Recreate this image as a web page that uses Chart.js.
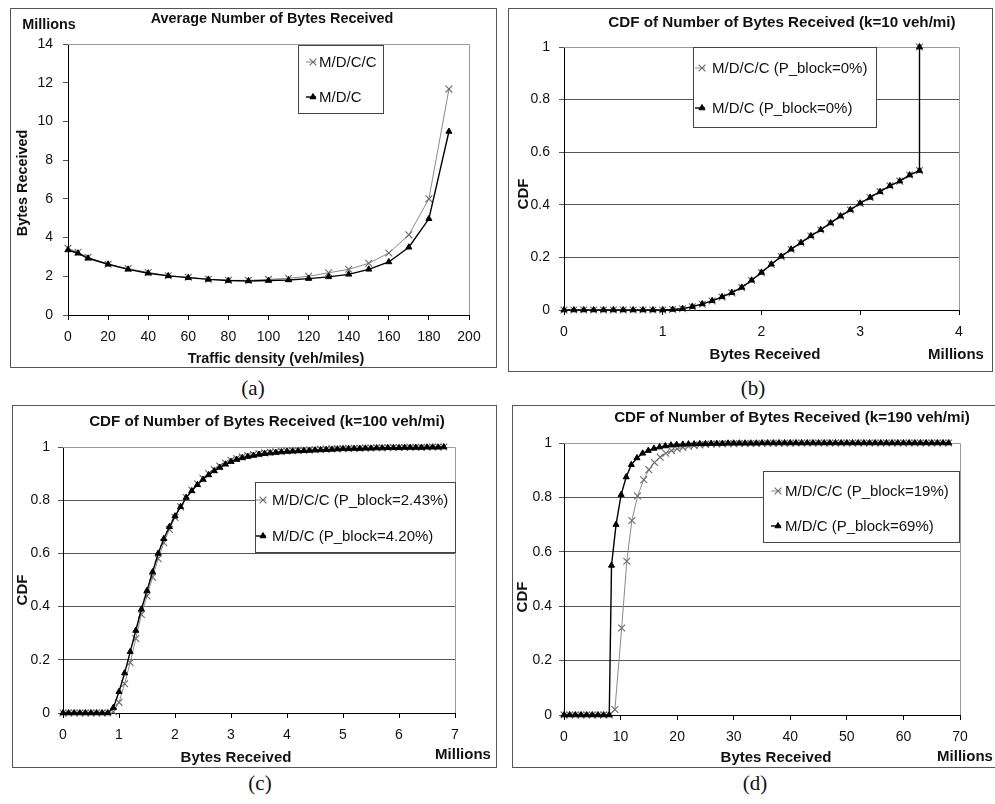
<!DOCTYPE html>
<html>
<head>
<meta charset="utf-8">
<script src="https://cdn.jsdelivr.net/npm/chart.js@4.4.1/dist/chart.umd.min.js"></script>
<style>
  body { margin: 0; background: #fff; width: 995px; height: 804px; overflow: hidden; position: relative; }
  .frame { position: absolute; border: 1px solid #555; box-sizing: border-box; }
  canvas { position: absolute; }
  .cap { position: absolute; font-family: "Liberation Serif", "Times New Roman", serif; font-size: 21px; transform: translateX(-50%); color: #111; }
</style>
</head>
<body>
<div class="frame" style="left:10px;top:8px;width:487px;height:360px"></div>
<canvas id="chartA" width="487" height="360" style="left:10px;top:8px"></canvas>
<div class="frame" style="left:508px;top:8px;width:485px;height:364px"></div>
<canvas id="chartB" width="485" height="364" style="left:508px;top:8px"></canvas>
<div class="frame" style="left:12px;top:405px;width:485px;height:363px"></div>
<canvas id="chartC" width="485" height="363" style="left:12px;top:405px"></canvas>
<div class="frame" style="left:512px;top:405px;width:490px;height:363px"></div>
<canvas id="chartD" width="490" height="363" style="left:512px;top:405px"></canvas>
<div class="cap" style="left:253px;top:376px">(a)</div>
<div class="cap" style="left:753px;top:376px">(b)</div>
<div class="cap" style="left:260px;top:771px">(c)</div>
<div class="cap" style="left:755px;top:771px">(d)</div>
<script>
// (a) average bytes received vs traffic density (millions)
const aDensity = [0, 5, 10, 20, 30, 40, 50, 60, 70, 80, 90, 100, 110, 120, 130, 140, 150, 160, 170, 180, 190];
const aMDCC = [3.45, 3.24, 2.98, 2.62, 2.40, 2.20, 2.03, 1.95, 1.85, 1.79, 1.79, 1.84, 1.90, 2.00, 2.18, 2.36, 2.67, 3.20, 4.14, 6.00, 11.67];
const aMDC = [3.36, 3.19, 2.93, 2.62, 2.36, 2.16, 2.02, 1.93, 1.84, 1.78, 1.76, 1.78, 1.81, 1.88, 1.97, 2.10, 2.36, 2.74, 3.50, 4.97, 9.48];

// (b) CDF, k=10 veh/mi
const bBytes = [0, 0.1, 0.2, 0.3, 0.4, 0.5, 0.6, 0.7, 0.8, 0.9, 1.0, 1.1, 1.2, 1.3, 1.4, 1.5, 1.6, 1.7, 1.8, 1.9,
  2.0, 2.1, 2.2, 2.3, 2.4, 2.5, 2.6, 2.7, 2.8, 2.9, 3.0, 3.1, 3.2, 3.3, 3.4, 3.5, 3.6, 3.6];
const bMDCC = [0, 0, 0, 0, 0, 0, 0, 0, 0, 0, 0, 0.002, 0.005, 0.012, 0.022, 0.034, 0.049, 0.065, 0.085, 0.112,
  0.142, 0.173, 0.203, 0.230, 0.255, 0.281, 0.304, 0.330, 0.357, 0.380, 0.405, 0.428, 0.450, 0.472, 0.490, 0.513, 0.530, 1];
const bMDC = [0, 0, 0, 0, 0, 0, 0, 0, 0, 0, 0, 0.002, 0.005, 0.013, 0.023, 0.035, 0.050, 0.066, 0.086, 0.113,
  0.143, 0.174, 0.204, 0.231, 0.256, 0.282, 0.305, 0.331, 0.357, 0.381, 0.406, 0.428, 0.450, 0.472, 0.490, 0.513, 0.530, 1];

// (c) CDF, k=100 veh/mi
const cBytes = [0, 0.1, 0.2, 0.3, 0.4, 0.5, 0.6, 0.7, 0.8, 0.9, 1.0, 1.1, 1.2, 1.3, 1.4, 1.5, 1.6, 1.7, 1.8, 1.9,
  2.0, 2.1, 2.2, 2.3, 2.4, 2.5, 2.6, 2.7, 2.8, 2.9, 3.0, 3.1, 3.2, 3.3, 3.4, 3.5, 3.6, 3.7, 3.8, 3.9,
  4.0, 4.1, 4.2, 4.3, 4.4, 4.5, 4.6, 4.7, 4.8, 4.9, 5.0, 5.1, 5.2, 5.3, 5.4, 5.5, 5.6, 5.7, 5.8, 5.9,
  6.0, 6.1, 6.2, 6.3, 6.4, 6.5, 6.6, 6.7, 6.8];
const cMDCC = [0, 0, 0, 0, 0, 0, 0, 0, 0, 0.005, 0.04, 0.11, 0.19, 0.28, 0.37, 0.44, 0.51, 0.58, 0.64, 0.69,
  0.735, 0.775, 0.81, 0.838, 0.862, 0.882, 0.900, 0.915, 0.928, 0.940, 0.950, 0.957, 0.963, 0.968, 0.972, 0.975, 0.978, 0.980, 0.982, 0.984,
  0.985, 0.986, 0.987, 0.988, 0.989, 0.990, 0.991, 0.992, 0.993, 0.993, 0.994, 0.994, 0.995, 0.995, 0.996, 0.996, 0.997, 0.997, 0.997, 0.998,
  0.998, 0.998, 0.999, 0.999, 0.999, 0.999, 1, 1, 1];
const cMDC = [0, 0, 0, 0, 0, 0, 0, 0, 0, 0.02, 0.08, 0.15, 0.23, 0.31, 0.39, 0.46, 0.53, 0.60, 0.655, 0.70,
  0.74, 0.775, 0.81, 0.835, 0.858, 0.878, 0.895, 0.910, 0.923, 0.935, 0.945, 0.953, 0.959, 0.964, 0.968, 0.972, 0.975, 0.977, 0.979, 0.981,
  0.983, 0.984, 0.985, 0.986, 0.987, 0.988, 0.989, 0.990, 0.991, 0.992, 0.993, 0.993, 0.994, 0.994, 0.995, 0.995, 0.996, 0.996, 0.997, 0.997,
  0.997, 0.998, 0.998, 0.998, 0.998, 0.999, 0.999, 0.999, 1];

// (d) CDF, k=190 veh/mi
const dBytesMDCC = [0, 1, 2, 3, 4, 5, 6, 7, 8, 9, 10.2, 11.1, 12, 13, 14.1, 15, 16, 17, 18, 19,
  20, 21, 22, 23, 24, 25, 26, 27, 28, 29, 30, 31, 32, 33, 34, 35, 36, 37, 38, 39,
  40, 41, 42, 43, 44, 45, 46, 47, 48, 49, 50, 51, 52, 53, 54, 55, 56, 57, 58, 59,
  60, 61, 62, 63, 64, 65, 66, 67, 68];
const dMDCC = [0, 0, 0, 0, 0, 0, 0, 0, 0, 0.02, 0.32, 0.565, 0.715, 0.805, 0.865, 0.902, 0.928, 0.948, 0.962, 0.972,
  0.979, 0.984, 0.988, 0.991, 0.993, 0.995, 0.996, 0.996, 0.997, 0.997, 0.997, 0.998, 0.998, 0.998, 0.998, 0.999, 0.999, 0.999, 0.999, 0.999,
  0.999, 1, 1, 1, 1, 1, 1, 1, 1, 1, 1, 1, 1, 1, 1, 1, 1, 1, 1, 1,
  1, 1, 1, 1, 1, 1, 1, 1, 1];
const dBytesMDC = [0, 1, 2, 3, 4, 5, 6, 7, 8, 8.4, 9.2, 10.1, 11, 11.9, 12.9, 13.9, 14.9, 15.9, 16.9, 17.9,
  18.9, 19.9, 21, 22, 23, 24, 25, 26, 27, 28, 29, 30, 31, 32, 33, 34, 35, 36, 37, 38,
  39, 40, 41, 42, 43, 44, 45, 46, 47, 48, 49, 50, 51, 52, 53, 54, 55, 56, 57, 58,
  59, 60, 61, 62, 63, 64, 65, 66, 67, 68];
const dMDC = [0, 0, 0, 0, 0, 0, 0, 0, 0, 0.55, 0.70, 0.81, 0.875, 0.92, 0.945, 0.962, 0.972, 0.980, 0.985, 0.989,
  0.992, 0.994, 0.995, 0.996, 0.996, 0.997, 0.997, 0.998, 0.998, 0.998, 0.999, 0.999, 0.999, 0.999, 0.999, 0.999, 1, 1, 1, 1,
  1, 1, 1, 1, 1, 1, 1, 1, 1, 1, 1, 1, 1, 1, 1, 1, 1, 1, 1, 1,
  1, 1, 1, 1, 1, 1, 1, 1, 1, 1];

const FONT = '"Liberation Sans", Arial, Helvetica, sans-serif';

function series(label, xs, ys, kind) {
  const pts = xs.map((x, i) => ({ x: x, y: ys[i] }));
  if (kind === 'cross') {
    return {
      label: label, data: pts, borderColor: '#8a8a8a', borderWidth: 1, order: 1,
      pointStyle: 'crossRot', pointRadius: 4.8, pointBorderColor: '#6a6a6a', pointBackgroundColor: '#6a6a6a',
      pointBorderWidth: 1.1, fill: false, tension: 0, clip: false
    };
  }
  return {
    label: label, data: pts, borderColor: '#000', borderWidth: 1.4, order: 0,
    pointStyle: 'triangle', pointRadius: 3.5, pointBorderColor: '#000', pointBackgroundColor: '#000',
    pointBorderWidth: 1, fill: false, tension: 0, clip: false
  };
}

// frame, legend box and free text (Excel style)
const deco = {
  id: 'deco',
  beforeDatasetsDraw(chart) {
    const a = chart.chartArea, ctx = chart.ctx;
    ctx.save();
    ctx.strokeStyle = '#9a9a9a';
    ctx.lineWidth = 1;
    ctx.beginPath();
    ctx.moveTo(a.left, Math.round(a.top) + 0.5);
    ctx.lineTo(Math.round(a.right) + 0.5, Math.round(a.top) + 0.5);
    ctx.lineTo(Math.round(a.right) + 0.5, a.bottom);
    ctx.stroke();
    ctx.restore();
  },
  afterDatasetsDraw(chart, args, o) {
    const ctx = chart.ctx;
    ctx.save();
    const b = o.box;
    ctx.fillStyle = '#fff';
    ctx.fillRect(b[0], b[1], b[2] - b[0], b[3] - b[1]);
    ctx.strokeStyle = '#444';
    ctx.lineWidth = 1;
    ctx.strokeRect(b[0] + 0.5, b[1] + 0.5, b[2] - b[0], b[3] - b[1]);
    ctx.font = '15px ' + FONT;
    ctx.textBaseline = 'middle';
    ctx.textAlign = 'left';
    chart.data.datasets.forEach((ds, i) => {
      const y = o.rows[i];
      ctx.strokeStyle = ds.borderColor;
      ctx.lineWidth = ds.borderWidth;
      ctx.beginPath();
      ctx.moveTo(o.markX - 7, y);
      ctx.lineTo(o.markX + 3, y);
      ctx.stroke();
      ctx.fillStyle = ds.pointBackgroundColor;
      ctx.strokeStyle = ds.pointBorderColor;
      ctx.lineWidth = ds.pointBorderWidth;
      Chart.helpers.drawPoint(ctx, { pointStyle: ds.pointStyle, radius: ds.pointRadius, rotation: 0, borderWidth: ds.pointBorderWidth }, o.markX, y);
      ctx.fillStyle = '#111';
      ctx.fillText(ds.label, o.textX, y + 1);
    });
    o.texts.forEach(t => {
      ctx.save();
      ctx.font = 'bold ' + t[4] + 'px ' + FONT;
      ctx.fillStyle = '#111';
      ctx.textAlign = 'center';
      ctx.textBaseline = 'middle';
      ctx.translate(t[1], t[2]);
      if (t[3]) ctx.rotate(-Math.PI / 2);
      ctx.fillText(t[0], 0, 0);
      ctx.restore();
    });
    ctx.restore();
  }
};

function makeChart(id, sets, p) {
  new Chart(document.getElementById(id), {
    type: 'line',
    data: { datasets: sets },
    options: {
      responsive: false,
      animation: false,
      layout: { padding: { top: p.top, right: p.right, left: 0, bottom: 0 } },
      scales: {
        x: {
          type: 'linear', min: p.xMin, max: p.xMax,
          afterFit: s => { s.height = p.xH; },
          ticks: { stepSize: p.xStep, padding: 9, color: '#111', font: { family: FONT, size: 14 } },
          grid: { display: true, drawOnChartArea: false, drawTicks: true, tickLength: 5, color: '#000' },
          border: { display: true, color: '#000', width: 1 }
        },
        y: {
          type: 'linear', min: p.yMin, max: p.yMax,
          afterFit: s => { s.width = p.yW; },
          ticks: {
            stepSize: p.yStep, padding: p.yPad, color: '#111', font: { family: FONT, size: 14 },
            callback: v => String(Number(v.toFixed(2)))
          },
          grid: { display: true, drawOnChartArea: p.yGrid, drawTicks: true, tickLength: 5, color: '#555', lineWidth: 1 },
          border: { display: true, color: '#000', width: 1 }
        }
      },
      plugins: {
        legend: { display: false },
        title: { display: false },
        tooltip: { enabled: false },
        deco: { box: p.box, rows: p.rows, markX: p.markX, textX: p.textX, texts: p.texts }
      }
    },
    plugins: [deco]
  });
}

makeChart('chartA', [
  series('M/D/C/C', aDensity, aMDCC, 'cross'),
  series('M/D/C', aDensity, aMDC, 'tri')
], {
  top: 36, right: 28, xH: 53, yW: 58, xMin: 0, xMax: 200, xStep: 20, yMin: 0, yMax: 14, yStep: 2, yPad: 10, yGrid: false,
  box: [288, 37, 373, 105], rows: [54, 89], markX: 303, textX: 309,
  texts: [['Average Number of Bytes Received', 262, 11, false, 14.4], ['Millions', 39, 17, false, 14.4],
    ['Bytes Received', 13, 175, true, 14.4], ['Traffic density (veh/miles)', 266, 351, false, 14.4]]
});

makeChart('chartB', [
  series('M/D/C/C (P_block=0%)', bBytes, bMDCC, 'cross'),
  series('M/D/C (P_block=0%)', bBytes, bMDC, 'tri')
], {
  top: 39, right: 34, xH: 62, yW: 56, xMin: 0, xMax: 4, xStep: 1, yMin: 0, yMax: 1, yStep: 0.2, yPad: 9, yGrid: true,
  box: [185, 39, 368, 119], rows: [60, 100], markX: 194, textX: 204,
  texts: [['CDF of Number of Bytes Received (k=10 veh/mi)', 274, 15, false, 15.2], ['Bytes Received', 257, 347, false, 15],
    ['Millions', 448, 347, false, 15], ['CDF', 16, 186, true, 15]]
});

makeChart('chartC', [
  series('M/D/C/C (P_block=2.43%)', cBytes, cMDCC, 'cross'),
  series('M/D/C (P_block=4.20%)', cBytes, cMDC, 'tri')
], {
  top: 42, right: 42, xH: 55, yW: 51, xMin: 0, xMax: 7, xStep: 1, yMin: 0, yMax: 1, yStep: 0.2, yPad: 8, yGrid: true,
  box: [243, 77, 443, 147], rows: [95, 131], markX: 251, textX: 260,
  texts: [['CDF of Number of Bytes Received (k=100 veh/mi)', 255, 17, false, 15.2], ['Bytes Received', 224, 353, false, 15],
    ['Millions', 451, 350, false, 15], ['CDF', 11, 185, true, 15]]
});

makeChart('chartD', [
  series('M/D/C/C (P_block=19%)', dBytesMDCC, dMDCC, 'cross'),
  series('M/D/C (P_block=69%)', dBytesMDC, dMDC, 'tri')
], {
  top: 38, right: 42, xH: 53, yW: 52, xMin: 0, xMax: 70, xStep: 10, yMin: 0, yMax: 1, yStep: 0.2, yPad: 7, yGrid: true,
  box: [251, 66, 447, 137], rows: [86, 121], markX: 266, textX: 273,
  texts: [['CDF of Number of Bytes Received (k=190 veh/mi)', 280, 13, false, 15.2], ['Bytes Received', 264, 353, false, 15],
    ['Millions', 453, 352, false, 15], ['CDF', 11, 192, true, 15]]
});
</script>
</body>
</html>
